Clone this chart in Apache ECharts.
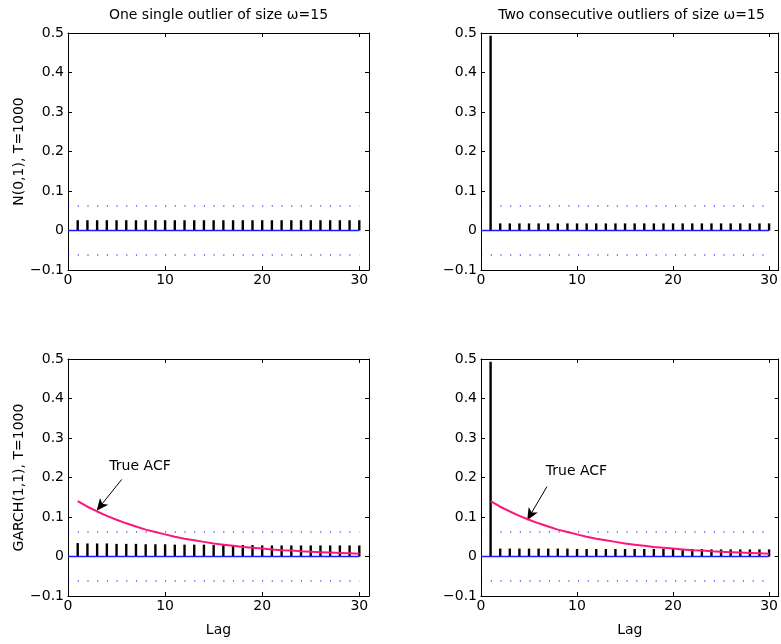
<!DOCTYPE html>
<html>
<head>
<meta charset="utf-8">
<script src="https://cdn.jsdelivr.net/npm/echarts@6/dist/echarts.min.js"></script>
<style>html,body{margin:0;padding:0;background:#fff;}#c{width:781px;height:644px;}</style>
</head>
<body>
<div id="c"></div>
<script>
// ---- data ----
const lags = [1,2,3,4,5,6,7,8,9,10,11,12,13,14,15,16,17,18,19,20,21,22,23,24,25,26,27,28,29,30];
const acfNormalSingle = [0.026,0.026,0.026,0.026,0.026,0.026,0.026,0.026,0.026,0.026,0.026,0.026,0.026,0.026,0.026,0.026,0.026,0.026,0.026,0.026,0.026,0.026,0.026,0.026,0.026,0.026,0.026,0.026,0.026,0.026];
const acfNormalTwo = [0.493,0.018,0.018,0.018,0.018,0.018,0.018,0.018,0.018,0.018,0.018,0.018,0.018,0.018,0.018,0.018,0.018,0.018,0.018,0.018,0.018,0.018,0.018,0.018,0.018,0.018,0.018,0.018,0.018,0.018];
const acfGarchSingle = [0.034,0.033,0.033,0.033,0.032,0.032,0.032,0.031,0.031,0.031,0.030,0.030,0.030,0.030,0.029,0.029,0.029,0.029,0.029,0.028,0.028,0.028,0.028,0.028,0.028,0.028,0.028,0.028,0.028,0.028];
const acfGarchTwo = [0.493,0.020,0.020,0.020,0.020,0.020,0.020,0.020,0.020,0.019,0.019,0.019,0.019,0.019,0.019,0.019,0.019,0.019,0.019,0.019,0.019,0.019,0.019,0.018,0.018,0.018,0.018,0.018,0.018,0.018];
const trueAcf = [0.140,0.126,0.114,0.103,0.093,0.084,0.076,0.068,0.062,0.056,0.050,0.045,0.041,0.037,0.033,0.030,0.027,0.024,0.022,0.020,0.018,0.016,0.015,0.013,0.012,0.011,0.010,0.009,0.008,0.007];
const confBand = 0.062;
const titles = ['One single outlier of size ω=15', 'Two consecutive outliers of size ω=15'];
const rowNames = ['N(0,1), T=1000', 'GARCH(1,1), T=1000'];
const xName = 'Lag';
const annText = 'True ACF';
// annotation anchor points (data coords): text, arrow start, arrow end
const annSingle = {text:[7.42,0.229], from:[5.53,0.195], to:[2.95,0.116]};
const annTwo = {text:[9.94,0.215], from:[6.87,0.177], to:[4.81,0.092]};

// ---- build ----
const FONT = 'DejaVu Sans';
const panels = [
  {left:68, top:33, stems:acfNormalSingle, curve:null, ann:null, title:titles[0], yName:rowNames[0], xName:''},
  {left:481, top:33, stems:acfNormalTwo, curve:null, ann:null, title:titles[1], yName:'', xName:''},
  {left:68, top:359, stems:acfGarchSingle, curve:trueAcf, ann:annSingle, title:'', yName:rowNames[1], xName:xName},
  {left:481, top:359, stems:acfGarchTwo, curve:trueAcf, ann:annTwo, title:'', yName:'', xName:xName}
];
const W = 301, H = 237;
const grid = [], xAxis = [], yAxis = [], series = [], graphic = [];
const yFmt = v => { const r = Math.round(v*10)/10; if (r === 0) return '0'; return r < 0 ? '\u2212' + Math.abs(r).toFixed(1) : r.toFixed(1); };
const xFmt = v => (Math.round(v) % 10 === 0 ? String(Math.round(v)) : '');
panels.forEach((p, i) => {
  grid.push({left:p.left, top:p.top, width:W, height:H, containLabel:false});
  const axLine = {show:true, onZero:false, lineStyle:{color:'#000', width:1}};
  const tick = {show:true, inside:true, length:4, lineStyle:{color:'#000'}};
  xAxis.push({type:'value', gridIndex:i, position:'bottom', min:0, max:31, interval:10,
    axisLine:axLine, axisTick:tick, splitLine:{show:false},
    axisLabel:{formatter:xFmt, color:'#000', fontSize:14, fontFamily:FONT, margin:3, showMaxLabel:false},
    name:p.xName, nameLocation:'middle', nameGap:27, nameTextStyle:{color:'#000', fontSize:14, fontFamily:FONT}});
  xAxis.push({type:'value', gridIndex:i, position:'top', min:0, max:31, interval:10,
    axisLine:axLine, axisTick:tick, splitLine:{show:false}, axisLabel:{show:false}});
  yAxis.push({type:'value', gridIndex:i, position:'left', min:-0.1, max:0.5, interval:0.1,
    axisLine:axLine, axisTick:tick, splitLine:{show:false},
    axisLabel:{formatter:yFmt, color:'#000', fontSize:14, fontFamily:FONT, margin:4},
    name:p.yName, nameLocation:'middle', nameGap:35, nameRotate:90,
    nameTextStyle:{color:'#000', fontSize:14, fontFamily:FONT}});
  yAxis.push({type:'value', gridIndex:i, position:'right', min:-0.1, max:0.5, interval:0.1,
    axisLine:axLine, axisTick:tick, splitLine:{show:false}, axisLabel:{show:false}});
  const xi = 2*i, yi = 2*i;
  series.push({type:'bar', xAxisIndex:xi, yAxisIndex:yi, barWidth:2.4, z:2,
    itemStyle:{color:'#000'}, data:lags.map((l,k)=>[l, p.stems[k]])});
  series.push({type:'line', xAxisIndex:xi, yAxisIndex:yi, symbol:'none', z:4,
    lineStyle:{color:'#1a1aff', width:1.6}, data:[[0,0],[30,0]]});
  series.push({type:'line', xAxisIndex:xi, yAxisIndex:yi, symbol:'none', z:3,
    lineStyle:{color:'#0000ff', width:1.2, type:[1.2,8.5]}, data:[[0,confBand],[30,confBand]]});
  series.push({type:'line', xAxisIndex:xi, yAxisIndex:yi, symbol:'none', z:3,
    lineStyle:{color:'#0000ff', width:1.2, type:[1.2,8.5]}, data:[[0,-confBand],[30,-confBand]]});
  if (p.curve) {
    series.push({type:'line', xAxisIndex:xi, yAxisIndex:yi, symbol:'none', z:5, smooth:false,
      lineStyle:{color:'#ff1478', width:2}, data:lags.map((l,k)=>[l, p.curve[k]]),
      markLine:{silent:true, symbol:['none','arrow'], symbolSize:[8,12], label:{show:false},
        lineStyle:{color:'#000', width:1, type:'solid'},
        data:[[{coord:p.ann.from}, {coord:p.ann.to}]]},
      markPoint:{silent:true, symbol:'rect', symbolSize:1, itemStyle:{color:'rgba(0,0,0,0)'},
        label:{show:true, position:'inside', formatter:annText, color:'#000', fontSize:14, fontFamily:FONT},
        data:[{coord:p.ann.text}]}
    });
  }
  if (p.title) {
    graphic.push({type:'text', x:p.left + W/2, y:15, z:10,
      style:{text:p.title, fill:'#000', font:'14px "' + FONT + '"', align:'center', verticalAlign:'middle'}});
  }
});
const chart = echarts.init(document.getElementById('c'), null, {renderer:'canvas'});
chart.setOption({animation:false, backgroundColor:'#fff', grid, xAxis, yAxis, series, graphic});
</script>
</body>
</html>
